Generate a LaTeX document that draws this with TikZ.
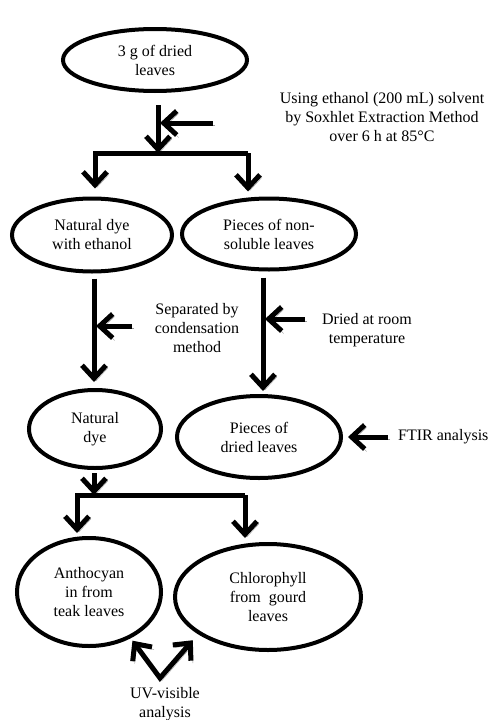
\documentclass[tikz,border=0pt]{standalone}
\usepackage{fontspec}
\setmainfont{Liberation Serif}
\usetikzlibrary{shapes.geometric,arrows.meta}
\begin{document}
\begin{tikzpicture}[x=1pt,y=-1pt,
  txt/.style={font=\fontsize{16}{19}\selectfont},
  ell/.style={ellipse,draw,line width=4pt,inner sep=0pt,align=center,txt},
  lbl/.style={align=center,txt,inner sep=0pt},
  shadowed/.style={preaction={draw=black!40,transform canvas={shift={(2pt,-2.5pt)}}}},
  ln/.style={line width=5pt,shadowed},
  arr/.style={ln,-{Straight Barb[length=13pt,width=24pt]}},
  arrtwo/.style={ln,{Straight Barb[length=13pt,width=24pt]}-{Straight Barb[length=13pt,width=24pt]}},
]
\useasboundingbox (0,0) rectangle (491,720);
\fill[white] (0,0) rectangle (491,720);

% ellipses
\node[ell,minimum width=184pt,minimum height=62pt] (src) at (155,60) {3 g of dried\\leaves};
\node[ell,minimum width=160pt,minimum height=73pt] (dyeEth) at (92,235) {Natural dye\\with ethanol};
\node[ell,minimum width=174pt,minimum height=71pt] (nonsol) at (269,234) {Pieces of non-\\soluble leaves};
\node[ell,minimum width=132pt,minimum height=78pt] (ndye) at (95,429) {Natural\\dye};
\node[ell,minimum width=164pt,minimum height=82pt] (pdried) at (259,437) {Pieces of\\dried leaves};
\node[ell,minimum width=144pt,minimum height=108pt] (antho) at (89,592) {Anthocyan\\in from\\teak leaves};
\node[ell,minimum width=186pt,minimum height=106pt] (chloro) at (268,597) {Chlorophyll\\from\ \ gourd\\leaves};

% labels
\node[lbl] (t1) at (382,117) {Using ethanol (200 mL) solvent\\by Soxhlet Extraction Method\\over 6 h at 85°C};
\node[lbl] (t2) at (197,328) {Separated by\\condensation\\method};
\node[lbl] (t3) at (367,330) {Dried at room\\temperature};
\node[lbl,anchor=west] (t4) at (398,437) {FTIR analysis};
\node[lbl] (t5) at (165,704) {UV-visible\\analysis};

% top split
\coordinate (j0) at ([xshift=3pt,yshift=-12pt]src.south);
\coordinate (j1) at (158,153);
\coordinate (bl) at (95,153);
\coordinate (br) at (248,153);
\coordinate (s1) at (213,123);
\draw[arr] (j0) -- (j1);
\draw[arr,shorten >=2pt] (s1) -- (s1 -| j1);
\draw[arr,shorten >=8pt] (br) -- (bl) -- (bl |- dyeEth.north);
\draw[arr,shorten >=5pt] (br) -- (br |- nonsol.north);

% left column
\coordinate (c1) at ([xshift=2pt,yshift=-5pt]dyeEth.south);
\coordinate (s2) at (132,326);
\draw[arr,shorten >=6pt] (c1) -- (c1 |- ndye.north);
\draw[arr,shorten >=2pt] (s2) -- (s2 -| c1);

% right column
\coordinate (c2) at ([xshift=-6pt,yshift=-6pt]nonsol.south);
\coordinate (s3) at (305,319);
\draw[arr,shorten >=3pt] (c2) -- (c2 |- pdried.north);
\draw[arr,shorten >=2pt] (s3) -- (s3 -| c2);
\coordinate (s4) at (388,437);
\draw[arr,shorten >=5pt] (s4) -- (pdried.east);

% bottom split
\coordinate (c3) at ([xshift=-1pt,yshift=-3pt]ndye.south);
\coordinate (j2) at (94,495);
\coordinate (bl2) at (77,495);
\coordinate (br2) at (245,495);
\draw[arr] (c3) -- (c3 |- j2);
\draw[arr,shorten >=3pt] (br2) -- (bl2) -- (bl2 |- antho.north);
\draw[arr,shorten >=4pt] (br2) -- (br2 |- chloro.north);

% UV arrows
\coordinate (v) at (160,678);
\draw[arrtwo,shorten <=3pt,shorten >=8pt] (antho.-48) -- (v) -- (chloro.-152);
\end{tikzpicture}
\end{document}
